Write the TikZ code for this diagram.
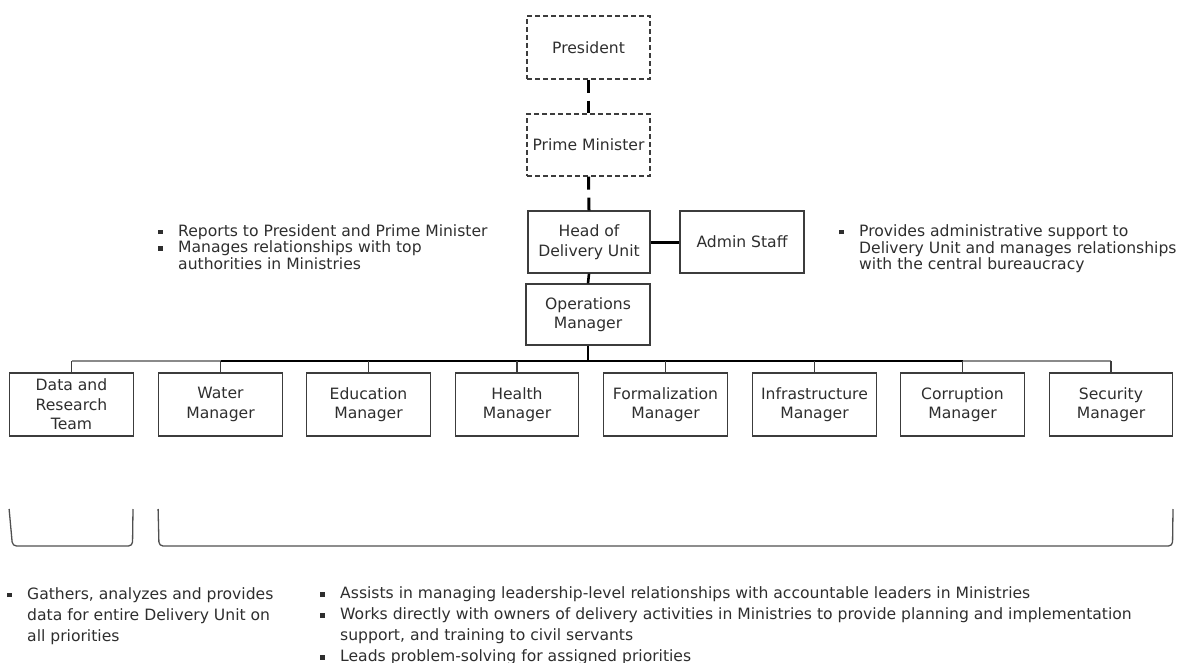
\documentclass[tikz,border=0pt]{standalone}
\usepackage{fontspec}
\setmainfont{DejaVu Sans}
\definecolor{txt}{HTML}{2E2E2E}
\definecolor{edge}{HTML}{3C3C3C}
\definecolor{busgray}{HTML}{8A8A8A}
\definecolor{brk}{HTML}{505050}
% small square bullet followed by the hanging indent
\newcommand\itemsq{\makebox[20pt][l]{\rule[2pt]{4.5pt}{4.5pt}}}
\begin{document}
\begin{tikzpicture}[x=1pt,y=-1pt,
  unitbox/.style={draw=edge, line width=1.3pt, minimum width=124pt,
    minimum height=62pt, inner sep=0pt, align=center, text=txt,
    font=\fontsize{15.6}{19.5}\selectfont},
  dashbox/.style={unitbox, line width=1.1pt, dash pattern=on 5pt off 3pt},
  reportdash/.style={line width=3pt, dash pattern=on 13pt off 8pt},
  solidlink/.style={line width=2.6pt},
  droplink/.style={draw=edge, line width=1.3pt},
  bracket/.style={draw=brk, line width=1.3pt, rounded corners=4pt},
  noteline/.style={anchor=base west, inner sep=0pt, text=txt,
    font=\fontsize{15.6}{16}\selectfont}]
\useasboundingbox (0,0) rectangle (1182,663);

% leadership chain
\node[dashbox, minimum width=123pt, minimum height=63pt] (pres) at (588.5,47.5) {President};
\node[dashbox, minimum width=123pt] (pm) at (588.5,145) {Prime Minister};
\node[unitbox, minimum width=122pt] (head) at (589,242) {Head of\\Delivery Unit};
\node[unitbox] (admin) at (742,242) {Admin Staff};
\node[unitbox, minimum height=61pt] (ops) at (588,314.5) {Operations\\Manager};

\draw[reportdash] (pres.south) -- (pm.north);
\draw[reportdash] (pm.south) -- (head.north);
\draw[line width=3pt] (head.east) -- (admin.west);
\draw[solidlink] (head.south) -- (ops.north);

% team row
\begin{scope}[every node/.style={unitbox, minimum width=123.5pt, minimum height=63pt}]
\node (dat) at (71.5,404.5) {Data and\\Research\\Team};
\node (wat) at (220.5,404.5) {Water\\Manager};
\node (edu) at (368.5,404.5) {Education\\Manager};
\node (hea) at (517,404.5) {Health\\Manager};
\node (frm) at (665.5,404.5) {Formalization\\Manager};
\node (inf) at (814.5,404.5) {Infrastructure\\Manager};
\node (cor) at (962.5,404.5) {Corruption\\Manager};
\node (sec) at (1111,404.5) {Security\\Manager};
\end{scope}

\coordinate (bus) at (588,361);
\draw[solidlink] (ops.south) -- (bus);
\draw[busgray, line width=2pt] (dat.north |- bus) -- (wat.north |- bus);
\draw[black, line width=2pt] (wat.north |- bus) -- (cor.north |- bus);
\draw[busgray, line width=2pt] (cor.north |- bus) -- (sec.north |- bus);
\foreach \n in {dat,wat,edu,hea,frm,inf,cor,sec}
  \draw[droplink] (\n.north |- bus) -- (\n.north);

% brackets grouping the teams
\draw[bracket] (dat.west |- 0,509) -- (12.5,546) -- (132.5,546) -- (133,509);
\draw[bracket] (wat.west |- 0,509) -- (159,546) -- (1172.5,546) -- (1173,509);

% role notes
\node[noteline] (hA) at (158,236) {\itemsq Reports to President and Prime Minister};
\node[noteline] (hB) at (158,252.5) {\itemsq Manages relationships with top};
\node[noteline] (hC) at (178,269) {authorities in Ministries};

\node[noteline] (aA) at (839,236.5) {\itemsq Provides administrative support to};
\node[noteline] (aB) at (859,253) {Delivery Unit and manages relationships};
\node[noteline] (aC) at (859,269.5) {with the central bureaucracy};

\node[noteline] (dA) at (7,599) {\itemsq Gathers, analyzes and provides};
\node[noteline] (dB) at (27,620) {data for entire Delivery Unit on};
\node[noteline] (dC) at (27,641) {all priorities};

\node[noteline] (mA) at (320,598.5) {\itemsq Assists in managing leadership-level relationships with accountable leaders in Ministries};
\node[noteline] (mB) at (320,619.5) {\itemsq Works directly with owners of delivery activities in Ministries to provide planning and implementation};
\node[noteline] (mC) at (340,640.5) {support, and training to civil servants};
\node[noteline] (mD) at (320,661.5) {\itemsq Leads problem-solving for assigned priorities};
\end{tikzpicture}
\end{document}
